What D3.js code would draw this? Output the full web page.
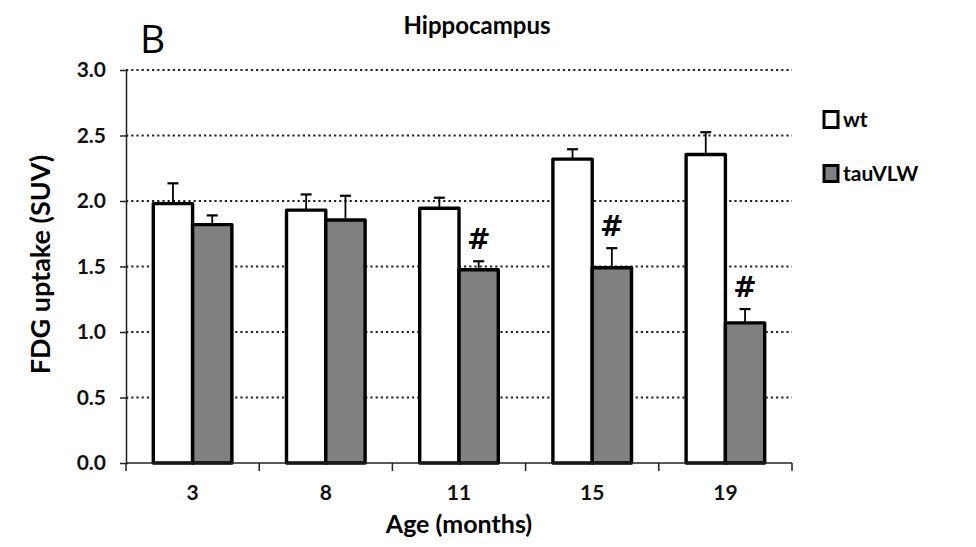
<!DOCTYPE html>
<html>
<head>
<meta charset="utf-8">
<script src="https://cdn.jsdelivr.net/npm/d3@7"></script>
<style>
  body { margin: 0; background: #fff; }
  text { font-family: Lato, "Open Sans", sans-serif; }
</style>
</head>
<body>
<div id="my_dataviz"></div>
<script>
// chart data
var ages = ["3", "8", "11", "15", "19"];
var wtMean = [1.98, 1.93, 1.945, 2.32, 2.355];
var wtErr = [0.155, 0.12, 0.08, 0.075, 0.17];
var tauMean = [1.82, 1.855, 1.475, 1.49, 1.07];
var tauErr = [0.07, 0.185, 0.065, 0.15, 0.105];
var significant = [false, false, true, true, true];
var seriesNames = ["wt", "tauVLW"];
var yTicks = [0, 0.5, 1.0, 1.5, 2.0, 2.5, 3.0];

var W = 976, H = 547;
var margin = {top: 70, right: 184, bottom: 84, left: 126},
    width = W - margin.left - margin.right,
    height = H - margin.top - margin.bottom;

var colors = {wt: "#ffffff", tauVLW: "#808080"};

var data = ages.map(function(a, i) {
  return {age: a, sig: significant[i], bars: [
    {key: "wt", v: wtMean[i], e: wtErr[i]},
    {key: "tauVLW", v: tauMean[i], e: tauErr[i]}
  ]};
});

var svg = d3.select("#my_dataviz")
  .append("svg")
    .attr("width", W)
    .attr("height", H)
  .append("g")
    .attr("transform", "translate(" + margin.left + "," + margin.top + ")");

// scales
var x = d3.scaleBand()
  .domain(ages)
  .range([0, width])
  .paddingInner(0.41)
  .paddingOuter(0.205);

var xSub = d3.scaleBand()
  .domain(seriesNames)
  .range([0, x.bandwidth()]);

var y = d3.scaleLinear()
  .domain([0, 3])
  .range([height, 0]);

// dotted grid lines
svg.append("g")
  .selectAll("line")
  .data(yTicks.filter(function(d) { return d > 0; }))
  .enter()
  .append("line")
    .attr("x1", 0)
    .attr("x2", width)
    .attr("y1", function(d) { return y(d); })
    .attr("y2", function(d) { return y(d); })
    .attr("stroke", "#222")
    .attr("stroke-width", 2.2)
    .attr("stroke-dasharray", "2.2,3");

// groups
var groups = svg.selectAll(".grp")
  .data(data)
  .enter()
  .append("g")
    .attr("class", "grp")
    .attr("transform", function(d) { return "translate(" + x(d.age) + ",0)"; });

// error bars (upper only)
groups.selectAll(".err")
  .data(function(d) { return d.bars; })
  .enter()
  .append("line")
    .attr("x1", function(d) { return xSub(d.key) + xSub.bandwidth() / 2; })
    .attr("x2", function(d) { return xSub(d.key) + xSub.bandwidth() / 2; })
    .attr("y1", function(d) { return y(d.v); })
    .attr("y2", function(d) { return y(d.v + d.e); })
    .attr("stroke", "#000")
    .attr("stroke-width", 1.8);

groups.selectAll(".cap")
  .data(function(d) { return d.bars; })
  .enter()
  .append("line")
    .attr("x1", function(d) { return xSub(d.key) + xSub.bandwidth() / 2 - 5.5; })
    .attr("x2", function(d) { return xSub(d.key) + xSub.bandwidth() / 2 + 5.5; })
    .attr("y1", function(d) { return y(d.v + d.e); })
    .attr("y2", function(d) { return y(d.v + d.e); })
    .attr("stroke", "#000")
    .attr("stroke-width", 2.2);

// bars
groups.selectAll("rect")
  .data(function(d) { return d.bars; })
  .enter()
  .append("rect")
    .attr("x", function(d) { return xSub(d.key); })
    .attr("y", function(d) { return y(d.v); })
    .attr("width", xSub.bandwidth())
    .attr("height", function(d) { return height - y(d.v); })
    .attr("fill", function(d) { return colors[d.key]; })
    .attr("stroke", "#000")
    .attr("stroke-width", 3.4)
    .attr("stroke-linejoin", "round");

// significance marks
groups.filter(function(d) { return d.sig; })
  .append("text")
    .attr("x", xSub("tauVLW") + xSub.bandwidth() / 2)
    .attr("y", function(d) { return y(d.bars[1].v + d.bars[1].e) - 12; })
    .attr("text-anchor", "middle")
    .style("font-family", "'DejaVu Sans', sans-serif")
    .style("font-weight", "bold")
    .style("font-size", "28px")
    .text("#");

// y axis
var yAxis = svg.append("g")
  .call(d3.axisLeft(y).tickValues(yTicks).tickFormat(d3.format(".1f")).tickSize(5).tickSizeOuter(0));
yAxis.select(".domain").attr("stroke", "#222").attr("stroke-width", 1.5);
yAxis.selectAll(".tick line").attr("stroke", "#222").attr("stroke-width", 1.5).attr("x2", -6).attr("x1", 2);
yAxis.selectAll(".tick text")
  .attr("x", -20)
  .style("font-size", "21px")
  .style("font-weight", "bold")
  .style("font-family", "Lato, sans-serif")
  .attr("fill", "#111");

// x axis with ticks between categories
var xAxisG = svg.append("g")
  .attr("transform", "translate(0," + height + ")");
xAxisG.append("line")
  .attr("x1", 0).attr("x2", width)
  .attr("stroke", "#222").attr("stroke-width", 1.5);
xAxisG.selectAll(".sep")
  .data(d3.range(ages.length + 1))
  .enter()
  .append("line")
    .attr("x1", function(i) { return i * x.step(); })
    .attr("x2", function(i) { return i * x.step(); })
    .attr("y1", 0).attr("y2", 8)
    .attr("stroke", "#222").attr("stroke-width", 1.5);
xAxisG.selectAll(".lbl")
  .data(ages)
  .enter()
  .append("text")
    .attr("x", function(d) { return x(d) + x.bandwidth() / 2; })
    .attr("y", 37)
    .attr("text-anchor", "middle")
    .style("font-size", "21px")
    .style("font-weight", "bold")
    .attr("fill", "#111")
    .text(function(d) { return d; });

// axis titles
svg.append("text")
  .attr("x", width / 2)
  .attr("y", height + 70)
  .attr("text-anchor", "middle")
  .style("font-size", "25px")
  .style("font-weight", "bold")
  .text("Age (months)");

svg.append("text")
  .attr("transform", "rotate(-90)")
  .attr("x", -(y(1.5)) + 2)
  .attr("y", -76)
  .attr("text-anchor", "middle")
  .style("font-size", "27px")
  .style("font-weight", "bold")
  .text("FDG uptake (SUV)");

// title and panel letter
svg.append("text")
  .attr("x", width / 2 + 18)
  .attr("y", -36)
  .attr("text-anchor", "middle")
  .style("font-size", "24px")
  .style("font-weight", "bold")
  .text("Hippocampus");

svg.append("text")
  .attr("x", 14)
  .attr("y", -17)
  .style("font-size", "39px")
  .style("font-family", "'Open Sans', sans-serif")
  .text("B");

// legend
var legend = svg.append("g")
  .attr("transform", "translate(" + (width + 32) + "," + (y(2.5) - 24) + ")");
var li = legend.selectAll(".li")
  .data(seriesNames)
  .enter()
  .append("g")
    .attr("transform", function(d, i) { return "translate(0," + (i * 54) + ")"; });
li.append("rect")
  .attr("width", 14)
  .attr("height", 16)
  .attr("fill", function(d) { return colors[d]; })
  .attr("stroke", "#000")
  .attr("stroke-width", 3);
li.append("text")
  .attr("x", 19)
  .attr("y", 15)
  .style("font-size", "21px")
  .style("font-weight", "bold")
  .text(function(d) { return d; });
</script>
</body>
</html>
